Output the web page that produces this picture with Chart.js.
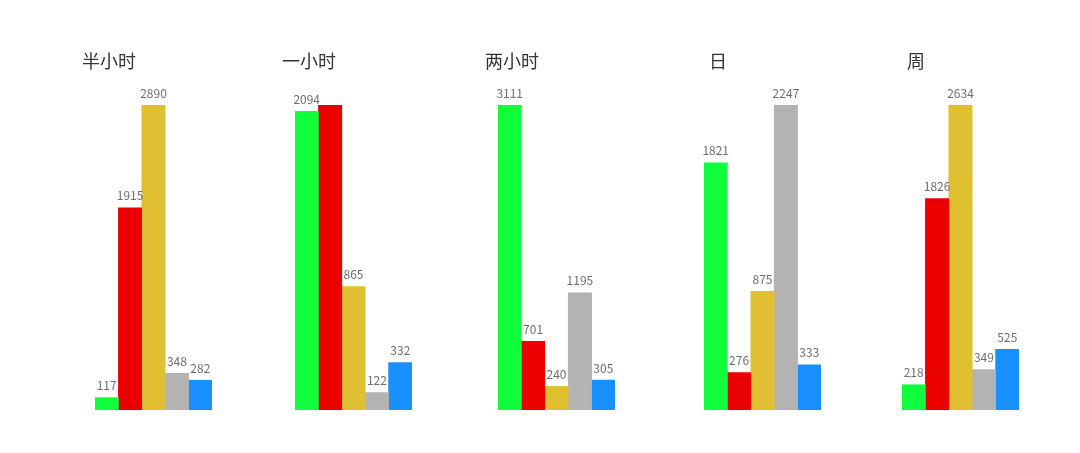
<!DOCTYPE html>
<html>
<head>
<meta charset="utf-8">
<script src="https://cdn.jsdelivr.net/npm/chart.js@4"></script>
<style>
  html, body { margin: 0; padding: 0; background: #fff; }
  #wrap { position: relative; width: 1080px; height: 453px; overflow: hidden; }
  .box { position: absolute; top: 0; width: 216px; height: 453px; }
</style>
</head>
<body>
<div id="wrap"></div>
<script>
// Period titles, one small chart per period
const periods = ['半小时', '一小时', '两小时', '日', '周'];
const seriesNames = ['系列1', '系列2', '系列3', '系列4', '系列5'];
const seriesColors = ['#10ff3c', '#eb0000', '#e0c032', '#b3b3b3', '#1890ff'];

// values per series, one entry per period
const series1 = [117, 2094, 3111, 1821, 218];
const series2 = [1915, 2138, 701, 276, 1826];
const series3 = [2890, 865, 240, 875, 2634];
const series4 = [348, 122, 1195, 2247, 349];
const series5 = [282, 332, 305, 333, 525];
const allSeries = [series1, series2, series3, series4, series5];

// labels not shown in the picture: [period index, series index]
const hiddenLabels = [[1, 1]];

// left edge of each small chart
const boxLeft = [1, 201, 404, 610, 808];

const FONT = '"Noto Sans CJK SC", "Noto Sans", sans-serif';

// value labels above each bar, plus the period title
const valueLabels = {
  id: 'valueLabels',
  afterDatasetsDraw(chart, args, opts) {
    const ctx = chart.ctx;
    ctx.save();
    ctx.font = '12px ' + FONT;
    ctx.fillStyle = '#6e6e6e';
    ctx.textAlign = 'center';
    ctx.textBaseline = 'bottom';
    chart.data.datasets.forEach((ds, i) => {
      if (opts.hidden.includes(i)) return;
      const bar = chart.getDatasetMeta(i).data[0];
      ctx.fillText(String(ds.data[0]), bar.x, bar.y - 6);
    });
    // title sits a little left of the bar group
    ctx.font = '18px ' + FONT;
    ctx.fillStyle = '#333';
    ctx.textBaseline = 'middle';
    ctx.fillText(opts.title, chart.chartArea.left + 14, 61);
    ctx.restore();
  }
};

periods.forEach((name, p) => {
  const box = document.createElement('div');
  box.className = 'box';
  box.style.left = boxLeft[p] + 'px';
  const canvas = document.createElement('canvas');
  box.appendChild(canvas);
  document.getElementById('wrap').appendChild(box);

  const values = allSeries.map(s => s[p]);
  const hidden = hiddenLabels.filter(h => h[0] === p).map(h => h[1]);

  new Chart(canvas.getContext('2d'), {
    type: 'bar',
    data: {
      labels: [name],
      datasets: seriesNames.map((s, i) => ({
        label: s,
        data: [allSeries[i][p]],
        backgroundColor: seriesColors[i],
        borderWidth: 0,
        categoryPercentage: 1,
        barPercentage: 1
      }))
    },
    options: {
      responsive: true,
      maintainAspectRatio: false,
      animation: false,
      layout: { padding: { left: 94, right: 5, top: 105, bottom: 43 } },
      scales: {
        x: { display: false },
        y: { display: false, min: 0, max: Math.max(...values) }
      },
      plugins: {
        legend: { display: false },
        tooltip: { enabled: false },
        title: { display: false },
        valueLabels: { hidden: hidden, title: name }
      }
    },
    plugins: [valueLabels]
  });
});
</script>
</body>
</html>
